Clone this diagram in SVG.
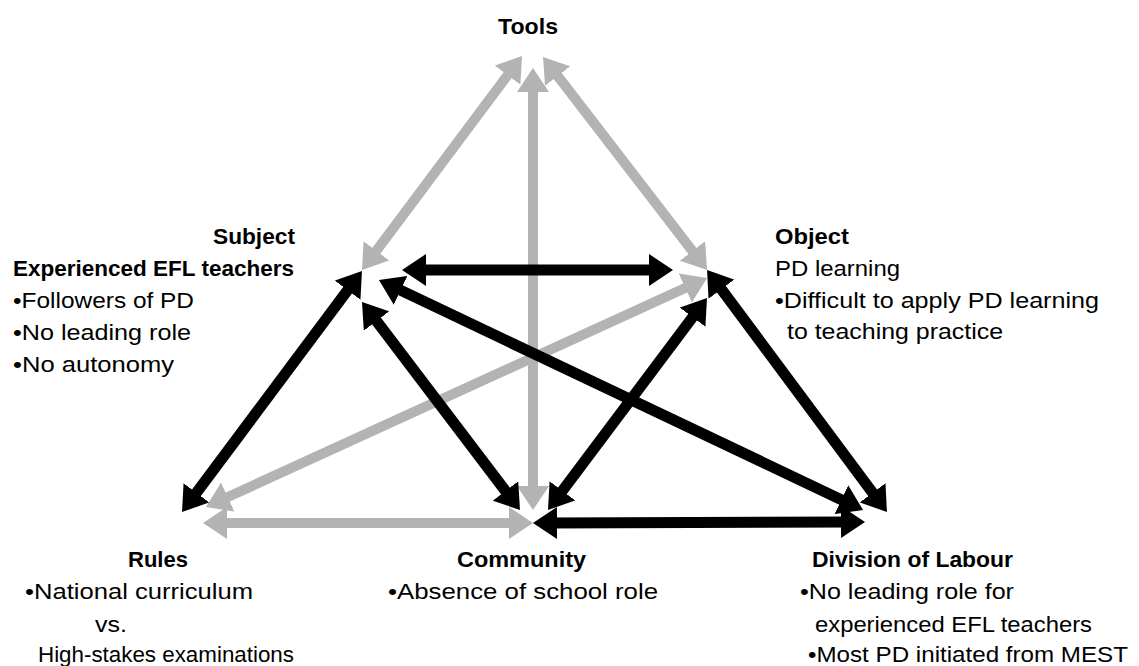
<svg xmlns="http://www.w3.org/2000/svg" width="1139" height="666" viewBox="0 0 1139 666">
<style>
.t{font-family:"Liberation Sans",Arial,sans-serif;font-size:22px;fill:#000}
.b{font-weight:bold}
.g{stroke:#b3b3b3;stroke-width:10;fill:none}
.k{stroke:#000;stroke-width:11;fill:none}
</style>
<defs>
<marker id="hg" markerUnits="userSpaceOnUse" viewBox="0 0 24 32" markerWidth="24" markerHeight="32" refX="9" refY="16" orient="auto-start-reverse"><path d="M0,0 L24,16 L0,32 z" fill="#b3b3b3"/></marker>
<marker id="hk" markerUnits="userSpaceOnUse" viewBox="0 0 24 32" markerWidth="24" markerHeight="32" refX="9" refY="16" orient="auto-start-reverse"><path d="M0,0 L24,16 L0,32 z" fill="#000"/></marker>
</defs>
<rect width="1139" height="666" fill="#fff"/>
<g id="connectors">
<line class="g" x1="513" y1="68" x2="371" y2="258" marker-start="url(#hg)" marker-end="url(#hg)"/>
<line class="g" x1="552.2" y1="68.9" x2="697.9" y2="258.1" marker-start="url(#hg)" marker-end="url(#hg)"/>
<line class="g" x1="533" y1="83" x2="533" y2="495" marker-start="url(#hg)" marker-end="url(#hg)"/>
<line class="g" x1="218" y1="523" x2="518" y2="523" marker-start="url(#hg)" marker-end="url(#hg)"/>
<line class="g" x1="219.6" y1="500.8" x2="693.4" y2="284.2" marker-start="url(#hg)" marker-end="url(#hg)"/>
<line class="k" x1="417" y1="270" x2="658" y2="270" marker-start="url(#hk)" marker-end="url(#hk)"/>
<line class="k" x1="353" y1="283" x2="191" y2="500" marker-start="url(#hk)" marker-end="url(#hk)"/>
<line class="k" x1="371.1" y1="313.9" x2="510.9" y2="498.1" marker-start="url(#hk)" marker-end="url(#hk)"/>
<line class="k" x1="392.5" y1="286.4" x2="849.5" y2="503.6" marker-start="url(#hk)" marker-end="url(#hk)"/>
<line class="k" x1="698" y1="310" x2="557" y2="498" marker-start="url(#hk)" marker-end="url(#hk)"/>
<line class="k" x1="716" y1="282" x2="878" y2="500" marker-start="url(#hk)" marker-end="url(#hk)"/>
<line class="k" x1="548" y1="523" x2="850" y2="522" marker-start="url(#hk)" marker-end="url(#hk)"/>
</g>
<g id="tools"><text class="t b" x="498" y="34" textLength="60" lengthAdjust="spacingAndGlyphs">Tools</text></g>
<g id="subject">
<text class="t b" x="213" y="244" textLength="82" lengthAdjust="spacingAndGlyphs">Subject</text>
<text class="t b" x="13" y="276" textLength="281" lengthAdjust="spacingAndGlyphs">Experienced EFL teachers</text>
<text class="t" x="13" y="308" textLength="181" lengthAdjust="spacingAndGlyphs">•Followers of PD</text>
<text class="t" x="13" y="340" textLength="178" lengthAdjust="spacingAndGlyphs">•No leading role</text>
<text class="t" x="13" y="372" textLength="161" lengthAdjust="spacingAndGlyphs">•No autonomy</text>
</g>
<g id="object">
<text class="t b" x="775" y="244" textLength="74" lengthAdjust="spacingAndGlyphs">Object</text>
<text class="t" x="775" y="276" textLength="125" lengthAdjust="spacingAndGlyphs">PD learning</text>
<text class="t" x="775" y="308" textLength="324" lengthAdjust="spacingAndGlyphs">•Difficult to apply PD learning</text>
<text class="t" x="787" y="339" textLength="216" lengthAdjust="spacingAndGlyphs">to teaching practice</text>
</g>
<g id="rules">
<text class="t b" x="128" y="567" textLength="60" lengthAdjust="spacingAndGlyphs">Rules</text>
<text class="t" x="25" y="599" textLength="228" lengthAdjust="spacingAndGlyphs">•National curriculum</text>
<text class="t" x="95" y="632" textLength="32" lengthAdjust="spacingAndGlyphs">vs.</text>
<text class="t" x="38" y="662" textLength="256" lengthAdjust="spacingAndGlyphs">High-stakes examinations</text>
</g>
<g id="community">
<text class="t b" x="457" y="567" textLength="129" lengthAdjust="spacingAndGlyphs">Community</text>
<text class="t" x="388" y="599" textLength="270" lengthAdjust="spacingAndGlyphs">•Absence of school role</text>
</g>
<g id="division">
<text class="t b" x="812" y="567" textLength="201" lengthAdjust="spacingAndGlyphs">Division of Labour</text>
<text class="t" x="800" y="599" textLength="214" lengthAdjust="spacingAndGlyphs">•No leading role for</text>
<text class="t" x="815" y="632" textLength="277" lengthAdjust="spacingAndGlyphs">experienced EFL teachers</text>
<text class="t" x="808" y="662" textLength="320" lengthAdjust="spacingAndGlyphs">•Most PD initiated from MEST</text>
</g>
</svg>
